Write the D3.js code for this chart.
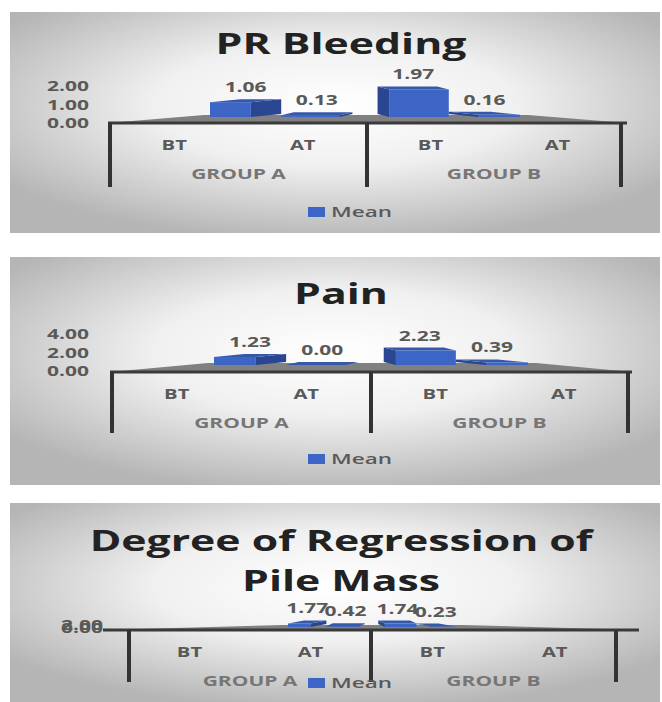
<!DOCTYPE html>
<html lang="en">
<head>
  <meta charset="UTF-8" />
  <title>PR Bleeding, Pain, Degree of Regression of Pile Mass</title>
  <script src="https://d3js.org/d3.v7.min.js"></script>
  <style>
    body { margin: 0; background: #fff; }
    svg { display: block; }
    text { font-family: "Open Sans", "DejaVu Sans", sans-serif; }
  </style>
</head>
<body>
  <svg width="662" height="702" id="chart"></svg>

  <script>
    const groups = ["GROUP A", "GROUP B"];
    const phases = ["BT", "AT"];
    const seriesName = "Mean";

    const chartTitles = [["PR Bleeding"], ["Pain"], ["Degree of Regression of", "Pile Mass"]];
    const prBleedingMean = [1.06, 0.13, 1.97, 0.16];
    const painMean = [1.23, 0.00, 2.23, 0.39];
    const pileMassMean = [1.77, 0.42, 1.74, 0.23];

    const prTicks = [0, 1, 2];
    const painTicks = [0, 2, 4];
    const pileTicks = [0, 2];

    // text in the picture is stretched sideways
    const SX = 1.5;

    // positions of each panel (layout only)
    const layouts = [
      { top: 12, bottom: 233, titleY: [54], tickRange: [123, 86], tickX: 89,
        axisY: 123, axisX: [108, 627], seps: [110, 367, 621], sepEnd: 187,
        backY: 117, backX: [210, 520], barPx: 14, legendY: 212 },
      { top: 257, bottom: 485, titleY: [304], tickRange: [371, 334], tickX: 89,
        axisY: 372, axisX: [110, 632], seps: [112, 371, 628], sepEnd: 433,
        backY: 365, backX: [214, 528], barPx: 6.5, legendY: 459 },
      { top: 503, bottom: 702, titleY: [551, 591], tickRange: [628, 625], tickX: 103,
        axisY: 630, axisX: [103, 639], seps: [129, 371, 616], sepEnd: 682,
        backY: 627, backX: [288, 455], barPx: 2, legendY: 683 }
    ];
    const panelData = [
      { values: prBleedingMean, ticks: prTicks },
      { values: painMean, ticks: painTicks },
      { values: pileMassMean, ticks: pileTicks }
    ];

    const svg = d3.select("#chart");

    const defs = svg.append("defs");
    const grad = defs.append("radialGradient")
      .attr("id", "bg")
      .attr("cx", "50%").attr("cy", "42%").attr("r", "62%");
    grad.append("stop").attr("offset", "0%").attr("stop-color", "#ffffff");
    grad.append("stop").attr("offset", "45%").attr("stop-color", "#f0f0f0");
    grad.append("stop").attr("offset", "100%").attr("stop-color", "#b5b5b5");

    function stretchText(g, x, y, str, size, weight, color, anchor) {
      return g.append("text")
        .attr("transform", `translate(${x},${y}) scale(${SX},1)`)
        .attr("text-anchor", anchor || "middle")
        .attr("font-size", size)
        .attr("font-weight", weight)
        .attr("fill", color)
        .text(str);
    }

    layouts.forEach((L, p) => {
      const { values, ticks } = panelData[p];
      const g = svg.append("g");

      g.append("rect")
        .attr("x", 10).attr("y", L.top)
        .attr("width", 650).attr("height", L.bottom - L.top)
        .attr("fill", "url(#bg)");

      chartTitles[p].forEach((line, i) => {
        stretchText(g, 341, L.titleY[i], line, 28.5, 700, "#222");
      });

      // value scales: ticks on the front edge, bars on the back wall
      const maxTick = d3.max(ticks);
      const yFront = d3.scaleLinear().domain([0, maxTick]).range(L.tickRange);
      const yBack = d3.scaleLinear().domain([0, maxTick])
        .range([L.backY, L.backY - L.barPx * maxTick]);

      ticks.forEach(t => {
        stretchText(g, L.tickX, yFront(t) + 5, d3.format(".2f")(t), 14, 700, "#595959", "end");
      });

      // floor
      const fx = L.backX;
      g.append("polygon")
        .attr("points", [
          [L.axisX[0], L.axisY], [fx[0] - 6, L.backY - 2],
          [fx[1] + 8, L.backY - 2], [L.axisX[1], L.axisY]
        ].map(d => d.join(",")).join(" "))
        .attr("fill", "#808080");

      // bars
      const outer = d3.scaleBand().domain(groups).range(L.backX).paddingInner(0.15);
      const inner = d3.scaleBand().domain(phases).range([0, outer.bandwidth()]);
      const rows = groups.flatMap((grp, gi) =>
        phases.map((ph, pi) => ({ grp, ph, v: values[gi * 2 + pi] })));
      const vx = L.seps[1];
      const dz = 3;

      rows.forEach(d => {
        const x0 = outer(d.grp) + inner(d.ph);
        const w = inner.bandwidth();
        const xc = x0 + w / 2;
        let s = (vx - xc) * 0.25;
        s = Math.max(-w * 0.45, Math.min(w * 0.45, s));
        const yt = yBack(d.v);
        const yb = L.backY;
        let front, side, top;
        if (s >= 0) {
          front = [x0, x0 + w - s];
          side = [[x0 + w - s, yt], [x0 + w, yt - dz], [x0 + w, yb - dz], [x0 + w - s, yb]];
          top = [[x0, yt], [x0 + w - s, yt], [x0 + w, yt - dz], [x0 + s, yt - dz]];
        } else {
          const a = -s;
          front = [x0 + a, x0 + w];
          side = [[x0 + a, yt], [x0, yt - dz], [x0, yb - dz], [x0 + a, yb]];
          top = [[x0 + a, yt], [x0 + w, yt], [x0 + w - a, yt - dz], [x0, yt - dz]];
        }
        g.append("polygon").attr("points", side.map(q => q.join(",")).join(" "))
          .attr("fill", "#2a4690");
        g.append("polygon").attr("points", top.map(q => q.join(",")).join(" "))
          .attr("fill", "#3559a8");
        g.append("rect")
          .attr("x", front[0]).attr("y", yt)
          .attr("width", front[1] - front[0]).attr("height", yb - yt)
          .attr("fill", "#3d65c6");

        stretchText(g, xc, yt - 10, d3.format(".2f")(d.v), 14, 700, "#595959");
      });

      // axis and group separators
      g.append("line")
        .attr("x1", L.axisX[0]).attr("x2", L.axisX[1])
        .attr("y1", L.axisY).attr("y2", L.axisY)
        .attr("stroke", "#3a3a3a").attr("stroke-width", 3);
      L.seps.forEach(x => {
        g.append("line")
          .attr("x1", x).attr("x2", x)
          .attr("y1", L.axisY).attr("y2", L.sepEnd)
          .attr("stroke", "#333").attr("stroke-width", 4);
      });

      // category and group labels
      groups.forEach((grp, gi) => {
        const gx = d3.scaleBand().domain(phases).range([L.seps[gi], L.seps[gi + 1]]);
        phases.forEach(ph => {
          stretchText(g, gx(ph) + gx.bandwidth() / 2, L.axisY + 27, ph, 13.5, 700, "#595959");
        });
        stretchText(g, (L.seps[gi] + L.seps[gi + 1]) / 2, L.axisY + 56, grp, 14, 700, "#767676");
      });

      // legend
      g.append("rect")
        .attr("x", 308).attr("y", L.legendY - 5)
        .attr("width", 17).attr("height", 10)
        .attr("fill", "#3d65c6");
      stretchText(g, 331, L.legendY + 5, seriesName, 15, 600, "#595959", "start");
    });
  </script>
</body>
</html>
